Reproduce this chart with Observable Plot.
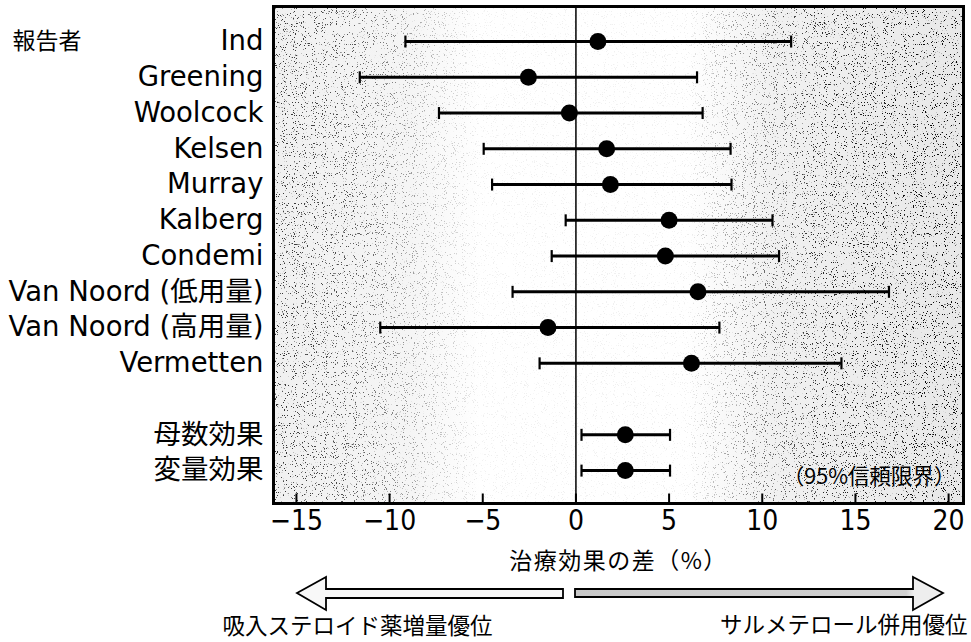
<!DOCTYPE html>
<html><head><meta charset="utf-8">
<script src="https://cdn.jsdelivr.net/npm/d3@7"></script>
<script src="https://cdn.jsdelivr.net/npm/@observablehq/plot@0.6"></script>
<style>
body{margin:0;background:#fff;}
#chart{width:971px;height:642px;}
</style>
</head><body><div id="chart"></div>
<script>
// ---- data ----
const studies = ["Ind","Greening","Woolcock","Kelsen","Murray","Kalberg","Condemi","Van Noord (低用量)","Van Noord (高用量)","Vermetten","母数効果","変量効果"];
const rowIndex = [0,1,2,3,4,5,6,7,8,9,11,12];
const estimate = [1.18,-2.55,-0.35,1.65,1.85,5.0,4.8,6.55,-1.5,6.2,2.65,2.65];
const lower    = [-9.15,-11.6,-7.35,-4.95,-4.5,-0.55,-1.3,-3.4,-10.5,-1.95,0.3,0.3];
const upper    = [11.55,6.5,6.8,8.3,8.35,10.55,10.9,16.8,7.7,14.25,5.05,5.05];
const xTicks = [-15,-10,-5,0,5,10,15,20];
const xLabel = "治療効果の差（%）";
const yTitle = "報告者";
const ciNote = "（95%信頼限界）";
const leftNote = "吸入ステロイド薬増量優位";
const rightNote = "サルメテロール併用優位";

const data = studies.map((s,i)=>({study:s,row:rowIndex[i],est:estimate[i],lo:lower[i],hi:upper[i]}));

const latin = "'DejaVu Sans','Noto Sans CJK JP',sans-serif";
const cjk = "'Noto Sans CJK JP',sans-serif";
const narrow = "'Liberation Sans Narrow','DejaVu Sans Condensed','Roboto Condensed','Liberation Sans',sans-serif";

const vbar = {draw(ctx, size){const r=Math.sqrt(size/Math.PI); ctx.moveTo(0,-r); ctx.lineTo(0,r);}};
const upTick = {draw(ctx, size){const r=Math.sqrt(size/Math.PI); ctx.moveTo(0,0); ctx.lineTo(0,-r);}};

const plot = Plot.plot({
  width: 971, height: 642,
  marginLeft: 273, marginRight: 8, marginTop: 6, marginBottom: 139,
  x: {domain: [-16.23, 20.8]},
  y: {domain: [12.92, -0.98]},
  style: {background: "transparent", color: "#000"},
  marks: [
    Plot.frame({fill: "url(#bgGrad)", stroke: "none"}),
    Plot.ruleX([0], {stroke: "#000", strokeWidth: 1.5}),
    Plot.ruleY(data, {y: "row", x1: "lo", x2: "hi", stroke: "#000", strokeWidth: 3}),
    Plot.dot(data, {x: "lo", y: "row", symbol: vbar, r: 6, stroke: "#000", strokeWidth: 2.2}),
    Plot.dot(data, {x: "hi", y: "row", symbol: vbar, r: 6, stroke: "#000", strokeWidth: 2.2}),
    Plot.dot(data, {x: "est", y: "row", r: 8.5, fill: "#000", stroke: "none"}),
    Plot.dot(xTicks, {x: d => d, frameAnchor: "bottom", symbol: upTick, r: 10, stroke: "#000", strokeWidth: 2}),
    Plot.frame({stroke: "#000", strokeWidth: 3}),
    Plot.axisX({ticks: xTicks, tickSize: 0, tickPadding: 7, fontSize: 28, fontFamily: narrow, label: null}),
    Plot.axisY({ticks: rowIndex, tickFormat: v => studies[rowIndex.indexOf(v)], tickSize: 0, tickPadding: 10, fontSize: 27.5, fontFamily: latin, label: null}),
    Plot.text([yTitle], {frameAnchor: "top-left", lineAnchor: "middle", dx: -261, dy: 35, textAnchor: "start", fontSize: 23, fontFamily: cjk}),
    Plot.text([ciNote], {frameAnchor: "bottom-right", lineAnchor: "middle", dx: -8, dy: -26, textAnchor: "end", fontSize: 21.5, fontFamily: cjk}),
    Plot.text([xLabel], {frameAnchor: "bottom", lineAnchor: "middle", dy: 58, fontSize: 23, fontFamily: cjk}),
    Plot.text([leftNote], {frameAnchor: "bottom-left", lineAnchor: "middle", dx: -51, dy: 123, textAnchor: "start", fontSize: 22.5, fontFamily: cjk}),
    Plot.text([rightNote], {frameAnchor: "bottom-right", lineAnchor: "middle", dx: 4, dy: 122, textAnchor: "end", fontSize: 22.5, fontFamily: cjk})
  ]
});

// ---- decorative stipple background and direction arrows ----
const svg = d3.select(plot);
const xr = plot.scale("x").range, yr = plot.scale("y").range;
const fx0 = Math.min(...xr), fx1 = Math.max(...xr), fy0 = Math.min(...yr), fy1 = Math.max(...yr);
const defs = svg.insert("defs", ":first-child");
const g = defs.append("linearGradient").attr("id", "bgGrad").attr("x1", 0).attr("x2", 1).attr("y1", 0).attr("y2", 0);
[[0,"#f0f0f0"],[0.2,"#f5f5f5"],[0.3,"#ffffff"],[0.6,"#ffffff"],[0.72,"#f1f1f1"],[1,"#e8e8e8"]]
  .forEach(([o,c]) => g.append("stop").attr("offset", o).attr("stop-color", c));
const dg = defs.append("linearGradient").attr("id", "densGrad").attr("x1", 0).attr("x2", 1).attr("y1", 0).attr("y2", 0);
[[0,0.8],[0.12,0.65],[0.22,0.3],[0.3,0.06],[0.6,0.06],[0.68,0.45],[0.8,0.85],[1,1]]
  .forEach(([o,a]) => dg.append("stop").attr("offset", o).attr("stop-color", "#fff").attr("stop-opacity", a));
const mask = defs.append("mask").attr("id", "densMask").attr("maskUnits", "userSpaceOnUse")
  .attr("x", fx0).attr("y", fy0).attr("width", fx1 - fx0).attr("height", fy1 - fy0);
mask.append("rect").attr("x", fx0).attr("y", fy0).attr("width", fx1 - fx0).attr("height", fy1 - fy0).attr("fill", "url(#densGrad)");
const filt = defs.append("filter").attr("id", "speckle").attr("filterUnits", "userSpaceOnUse")
  .attr("x", fx0).attr("y", fy0).attr("width", fx1 - fx0).attr("height", fy1 - fy0);
filt.append("feTurbulence").attr("type", "fractalNoise").attr("baseFrequency", 0.9).attr("numOctaves", 2).attr("seed", 7);
filt.append("feColorMatrix").attr("type", "matrix").attr("values", "0 0 0 0 0  0 0 0 0 0  0 0 0 0 0  16 0 0 0 -10.3");
const firstFrame = svg.select('[aria-label="frame"]').node();
const speck = document.createElementNS("http://www.w3.org/2000/svg", "g");
firstFrame.parentNode.insertBefore(speck, firstFrame.nextSibling);
d3.select(speck).attr("mask", "url(#densMask)")
  .append("rect").attr("x", fx0).attr("y", fy0).attr("width", fx1 - fx0).attr("height", fy1 - fy0)
  .attr("fill", "#000").attr("filter", "url(#speckle)");

// slightly widen the axis label spacing like the reference
svg.selectAll("text").filter(function(){ return this.textContent === xLabel; }).attr("letter-spacing", 1.5);

const ag = defs.append("linearGradient").attr("id", "arrowGrad").attr("x1", 0).attr("x2", 1);
[[0,"#c8c8c8"],[0.9,"#d0d0d0"],[0.92,"#eeeeee"],[1,"#eeeeee"]]
  .forEach(([o,c]) => ag.append("stop").attr("offset", o).attr("stop-color", c));
const arrows = svg.append("g").attr("stroke", "#000").attr("stroke-width", 1.8).attr("stroke-linejoin", "miter");
arrows.append("path").attr("fill", "#f8f8f8")
  .attr("d", "M297,593 L326,577 L326,589 L563,589 L563,598 L326,598 L326,610 Z");
arrows.append("path").attr("fill", "url(#arrowGrad)")
  .attr("d", "M943,593 L913,577 L913,589 L575,589 L575,597 L913,597 L913,610 Z");

document.getElementById("chart").appendChild(plot);
</script>
</body></html>
